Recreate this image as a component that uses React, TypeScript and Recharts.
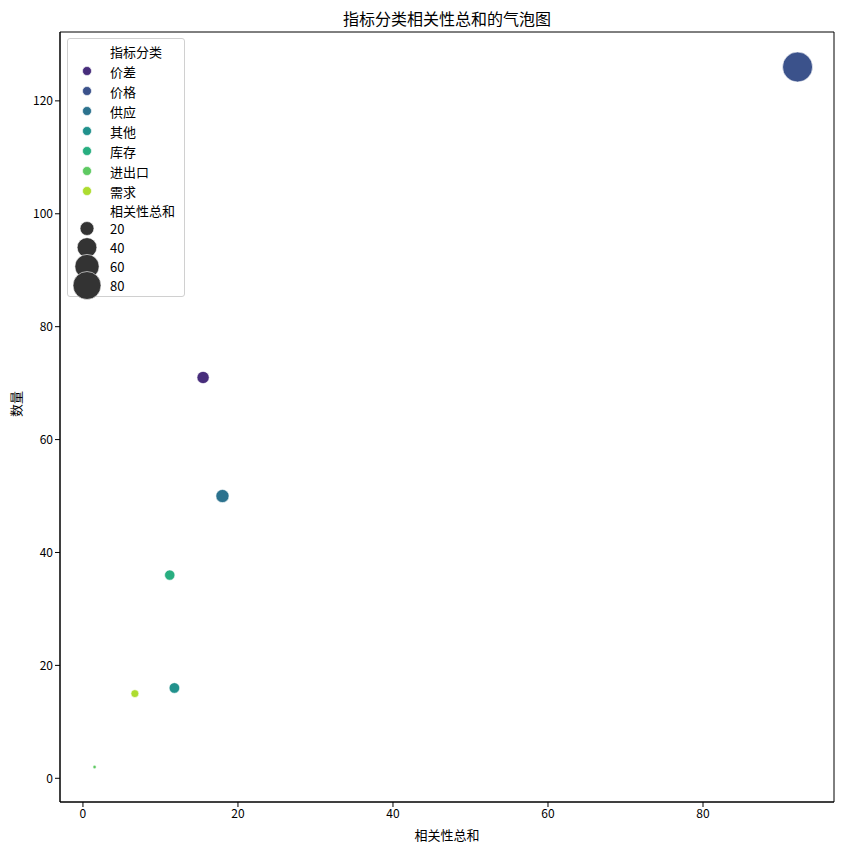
import { ScatterChart, Scatter, XAxis, YAxis, ZAxis, Cell, ReferenceArea } from 'recharts'

// values
const categories = ['价差', '价格', '供应', '其他', '库存', '进出口', '需求']
const corrSums = [15.5, 92.2, 18.0, 11.8, 11.2, 1.5, 6.7]
const counts = [71, 126, 50, 16, 36, 2, 15]
const palette = ['#472d7b', '#3b528b', '#2c728e', '#21918c', '#28ae80', '#5ec962', '#addc30']
const sizeLegendValues = [20, 40, 60, 80]
const xTicks = [0, 20, 40, 60, 80]
const yTicks = [0, 20, 40, 60, 80, 100, 120]

const FONT = '"Noto Sans CJK SC", "Noto Sans", sans-serif'
const AREA_RANGE: [number, number] = [9, 707]

const data = categories.map((name, i) => ({
  name,
  x: corrSums[i],
  y: counts[i],
  z: corrSums[i],
}))

const zMin = Math.min(...corrSums)
const zMax = Math.max(...corrSums)

// same linear area mapping as the ZAxis, for the legend markers
const radiusFor = (v: number) => {
  const area = AREA_RANGE[0] + ((v - zMin) / (zMax - zMin)) * (AREA_RANGE[1] - AREA_RANGE[0])
  return Math.sqrt(area / Math.PI)
}

function BubbleLegend() {
  const rowStyle = { height: 20, display: 'flex', alignItems: 'center' } as const
  return (
    <div
      style={{
        position: 'absolute',
        left: 67,
        top: 38,
        width: 118,
        height: 259,
        border: '1px solid #d0d0d0',
        borderRadius: 3,
        background: 'rgba(255,255,255,0.8)',
        fontFamily: FONT,
        fontSize: 13,
        color: '#000',
        boxSizing: 'border-box',
        paddingTop: 2,
      }}
    >
      <div style={{ ...rowStyle, paddingLeft: 42 }}>指标分类</div>
      {categories.map((c, i) => (
        <div key={c} style={rowStyle}>
          <svg width={42} height={20}>
            <circle cx={19} cy={10} r={4.5} fill={palette[i]} stroke="#fff" strokeWidth={0.6} />
          </svg>
          <span>{c}</span>
        </div>
      ))}
      <div style={{ ...rowStyle, paddingLeft: 42, height: 18 }}>相关性总和</div>
      {sizeLegendValues.map((v) => (
        <div key={v} style={{ ...rowStyle, height: 19 }}>
          <svg width={42} height={19} style={{ overflow: 'visible' }}>
            <circle cx={19} cy={9.5} r={radiusFor(v)} fill="#333" stroke="#fff" strokeWidth={0.6} />
          </svg>
          <span>{v}</span>
        </div>
      ))}
    </div>
  )
}

export default function App() {
  const xDomain: [number, number] = [-2.96, 96.9]
  const yDomain: [number, number] = [-4.2, 132.2]
  const tickStyle = { fill: '#000', fontSize: 12, fontFamily: FONT }

  return (
    <div style={{ position: 'absolute', left: 0, top: 0, width: 843, height: 852, background: '#fff' }}>
      <div
        style={{
          position: 'absolute',
          top: 6,
          left: 60,
          width: 774,
          textAlign: 'center',
          fontFamily: FONT,
          fontSize: 16,
          color: '#000',
        }}
      >
        指标分类相关性总和的气泡图
      </div>
      <ScatterChart width={843} height={852} margin={{ top: 32, right: 9, bottom: 0, left: 0 }}>
        <XAxis
          type="number"
          dataKey="x"
          domain={xDomain}
          ticks={xTicks}
          allowDataOverflow
          height={50}
          tick={tickStyle}
          tickSize={5}
          stroke="#000"
          label={{ value: '相关性总和', position: 'insideBottom', offset: 12, fill: '#000', fontSize: 13, fontFamily: FONT }}
        />
        <YAxis
          type="number"
          dataKey="y"
          domain={yDomain}
          ticks={yTicks}
          allowDataOverflow
          width={60}
          tick={tickStyle}
          tickSize={5}
          stroke="#000"
          label={{ value: '数量', angle: -90, position: 'insideLeft', offset: 16, fill: '#000', fontSize: 13, fontFamily: FONT }}
        />
        <ZAxis type="number" dataKey="z" domain={[zMin, zMax]} range={AREA_RANGE} />
        <ReferenceArea
          x1={xDomain[0]}
          x2={xDomain[1]}
          y1={yDomain[0]}
          y2={yDomain[1]}
          fill="none"
          fillOpacity={0}
          stroke="#000"
          strokeWidth={1}
        />
        <Scatter data={data} isAnimationActive={false} stroke="#fff" strokeWidth={0.6}>
          {data.map((d, i) => (
            <Cell key={d.name} fill={palette[i]} />
          ))}
        </Scatter>
      </ScatterChart>
      <BubbleLegend />
    </div>
  )
}
